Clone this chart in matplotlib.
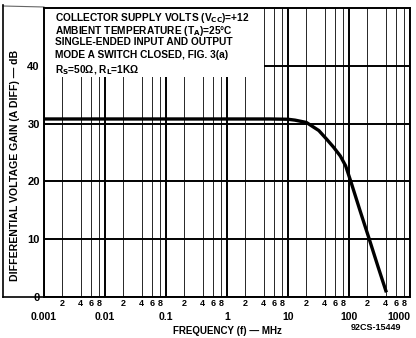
import matplotlib
matplotlib.use("Agg")
import matplotlib.pyplot as plt
from matplotlib.patches import Rectangle
from matplotlib.lines import Line2D
from matplotlib.ticker import FixedLocator, FixedFormatter

plt.rcParams['font.family'] = ['Liberation Sans', 'DejaVu Sans']
plt.rcParams['font.weight'] = 'bold'

# Data
freq_mhz = [0.001, 0.01, 0.1, 1, 5, 10, 13, 20, 32, 43, 56, 72, 88, 107, 150, 215, 300, 410]
gain_db = [30.8, 30.8, 30.8, 30.8, 30.8, 30.75, 30.6, 30.2, 28.8, 27.3, 25.9, 24.4, 22.7, 20.0, 15.1, 10.0, 5.2, 0.8]

major_x = [0.001, 0.01, 0.1, 1, 10, 100, 1000]
major_x_labels = ["0.001", "0.01", "0.1", "1", "10", "100", "1000"]
minor_mult = [2, 4, 6, 8]
y_ticks = [0, 10, 20, 30, 40]
y_labels = ["0", "10", "20", "30", "40"]

notes = ["COLLECTOR SUPPLY VOLTS (V$_{\\mathbf{CC}}$)=+12",
         "AMBIENT TEMPERATURE (T$_{\\mathbf{A}}$)=25°C",
         "SINGLE-ENDED INPUT AND OUTPUT",
         "MODE A SWITCH CLOSED, FIG. 3(a)",
         "R$_{\\mathbf{S}}$=50Ω, R$_{\\mathbf{L}}$=1KΩ"]

W, H = 416, 338
fig = plt.figure(figsize=(W / 100, H / 100), dpi=100)
ax = fig.add_axes([44 / W, 41 / H, (410 - 44) / W, (297 - 8) / H])

ax.set_xscale('log')
ax.set_xlim(0.001, 1000)
ax.set_ylim(0, 50)

minor_x = [m * d for d in major_x[:-1] for m in minor_mult]
ax.xaxis.set_major_locator(FixedLocator(major_x))
ax.xaxis.set_major_formatter(FixedFormatter(major_x_labels))
ax.xaxis.set_minor_locator(FixedLocator(minor_x))
ax.xaxis.set_minor_formatter(FixedFormatter([str(m) for d in major_x[:-1] for m in minor_mult]))
ax.set_yticks(y_ticks)
ax.set_yticklabels(y_labels)

ax.tick_params(axis='x', which='major', length=0, pad=11, labelsize=7.5)
ax.tick_params(axis='x', which='minor', length=0, pad=1.5, labelsize=6.5)
ax.tick_params(axis='y', length=0, pad=3, labelsize=8)
for lab in ax.get_xticklabels(which='both') + ax.get_yticklabels():
    lab.set_fontweight('bold')
fig.canvas.draw()
ax.get_xticklabels()[-1].set_horizontalalignment('right')

ax.set_axisbelow(True)
ax.grid(True, which='major', axis='x', color='black', lw=1.4)
ax.grid(True, which='minor', axis='x', color='black', lw=0.7, alpha=0.85)
ax.grid(True, which='major', axis='y', color='black', lw=1.4)

for s in ax.spines.values():
    s.set_linewidth(1.4)

# white note box covering the grid
ax.add_patch(Rectangle((0.001, 38.0), 4 - 0.001, 50 - 38.0, facecolor='white',
                       edgecolor='none', zorder=1))

ax.plot(freq_mhz, gain_db, color='black', lw=2.4, zorder=3, solid_capstyle='butt')

y0 = 0.99
for i, t in enumerate(notes):
    ax.text(0.03, y0 - i * 0.045, t, transform=ax.transAxes, fontsize=7.3,
            fontweight='bold', va='top', ha='left', zorder=4)

# outer frame around y-label area
fig.add_artist(Line2D([3 / W, 3 / W], [1 - 5 / H, 1 - 297 / H], color='black', lw=1.2))
fig.add_artist(Line2D([3 / W, 44 / W], [1 - 297 / H, 1 - 297 / H], color='black', lw=1.2))
fig.add_artist(Line2D([3 / W, 44 / W], [1 - 6 / H, 1 - 7 / H], color='black', lw=0.8, alpha=0.6))

fig.text(15 / W, 1 - 165 / H, "DIFFERENTIAL VOLTAGE GAIN (A DIFF) — dB", rotation=90,
         ha='center', va='center', fontsize=7.6, fontweight='bold')
fig.text(227 / W, 1 - 331 / H, "FREQUENCY (f) — MHz", ha='center', va='center',
         fontsize=7, fontweight='bold')
fig.text(376 / W, 1 - 327 / H, "92CS-15449", ha='center', va='center',
         fontsize=6.5, fontweight='bold')

fig.savefig("out.png", dpi=100)
